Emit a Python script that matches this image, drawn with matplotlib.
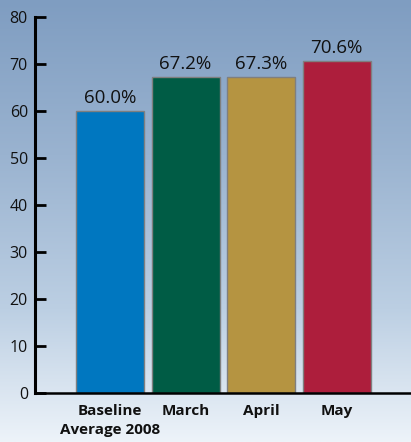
import matplotlib
matplotlib.use("Agg")
import matplotlib.pyplot as plt
import numpy as np
from matplotlib.colors import LinearSegmentedColormap

categories = ["Baseline\nAverage 2008", "March", "April", "May"]
values = [60.0, 67.2, 67.3, 70.6]
value_labels = ["60.0%", "67.2%", "67.3%", "70.6%"]
bar_colors = ["#0077c0", "#005c45", "#b59441", "#ad1e3c"]
yticks = [0, 10, 20, 30, 40, 50, 60, 70, 80]

plt.rcParams["font.family"] = ["Open Sans", "DejaVu Sans"]

fig = plt.figure(figsize=(4.11, 4.42), dpi=100)

# background gradient
bg = fig.add_axes([0, 0, 1, 1])
bg.set_axis_off()
cmap = LinearSegmentedColormap.from_list(
    "sky", [(0.0, "#7f9dc1"), (0.35, "#9ab3d0"), (0.7, "#bccfe3"), (1.0, "#edf3f9")])
grad = np.linspace(0, 1, 256).reshape(-1, 1)
bg.imshow(grad, aspect="auto", cmap=cmap, extent=[0, 1, 0, 1], origin="upper")
bg.set_xlim(0, 1)
bg.set_ylim(0, 1)

ax = fig.add_axes([0.085, 0.111, 0.915, 0.8507])
ax.patch.set_alpha(0)
x = np.arange(len(categories))
ax.bar(x, values, width=0.9, color=bar_colors, edgecolor="#7f7f7f", linewidth=1.0, zorder=3)

for xi, v, lab in zip(x, values, value_labels):
    ax.text(xi, v + 0.8, lab, ha="center", va="bottom", fontsize=13.5, color="#111111")

ax.set_xlim(-0.995, 3.985)
ax.set_ylim(0, 80)
ax.set_yticks(yticks)
ax.set_xticks(x)
ax.set_xticklabels(categories, fontsize=11, fontweight="bold", color="#111111",
                   linespacing=1.45)
ax.tick_params(axis="x", length=0, pad=8)
ax.tick_params(axis="y", direction="in", length=8, width=2, labelsize=11.5,
               labelcolor="#111111", pad=5)

for side in ["top", "right"]:
    ax.spines[side].set_visible(False)
ax.spines["left"].set_linewidth(2.2)
ax.spines["bottom"].set_linewidth(1.8)
ax.spines["left"].set_zorder(4)
ax.spines["bottom"].set_zorder(4)

fig.savefig("out.png", dpi=100)
